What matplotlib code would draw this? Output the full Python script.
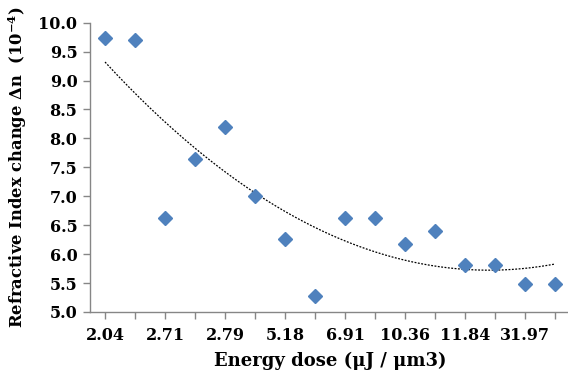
import numpy as np
import matplotlib
matplotlib.use("Agg")
import matplotlib.pyplot as plt

categories = list(range(1, 17))
values = [9.73, 9.70, 6.63, 7.65, 8.20, 7.00, 6.27, 5.27,
          6.63, 6.63, 6.18, 6.40, 5.82, 5.82, 5.48, 5.48]
tick_labels = ["2.04", "2.71", "2.79", "5.18", "6.91", "10.36", "11.84", "31.97"]

plt.rcParams['font.family'] = ['DejaVu Serif']
plt.rcParams['mathtext.fontset'] = 'dejavuserif'

fig = plt.figure(figsize=(5.68, 3.73), dpi=100)
ax = fig.add_axes([90/568, (373-312)/373, 1 - 90/568 + 0.004, (312-22.7)/373])

x = np.array(categories, dtype=float)
y = np.array(values)
ax.plot(x, y, linestyle='none', marker='D', markersize=7,
        color='#4F81BD', markeredgecolor='#4F81BD', zorder=3)

coef = np.polyfit(x, y, 2)
xf = np.linspace(1, 16, 200)
ax.plot(xf, np.polyval(coef, xf), color='black', lw=0.9,
        linestyle=(0, (1.5, 1.2)), zorder=2)

ax.set_xlim(0.5, 16.5)
ax.set_ylim(5.0, 10.0)
ax.set_yticks(np.arange(5.0, 10.01, 0.5))
ax.set_yticklabels([f"{v:.1f}" for v in np.arange(5.0, 10.01, 0.5)],
                   fontsize=11.5, fontweight='bold')
ax.set_xticks(x)
ax.set_xticklabels([tick_labels[i // 2] if i % 2 == 0 else "" for i in range(16)],
                   fontsize=11.5, fontweight='bold')

for s in ['top', 'right']:
    ax.spines[s].set_visible(False)
for s in ['left', 'bottom']:
    ax.spines[s].set_color('#868686')
    ax.spines[s].set_linewidth(1.0)
ax.tick_params(axis='both', color='#868686', length=5, width=1.0)
ax.tick_params(axis='y', pad=4)
ax.tick_params(axis='x', pad=6)

ax.set_xlabel("Energy dose (μJ / μm3)", fontsize=13, fontweight='bold', labelpad=5.5)
ax.set_ylabel(r"Refractive Index change Δn  (10$^{\mathbf{-4}}$)", fontsize=11.8,
              fontweight='bold', labelpad=7)

fig.savefig("out.png", dpi=100)
